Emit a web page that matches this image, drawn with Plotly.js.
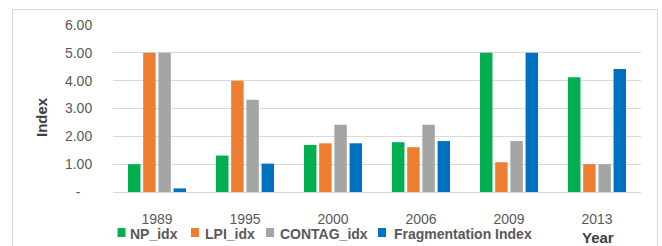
<!DOCTYPE html>
<html>
<head>
<meta charset="utf-8">
<script src="https://cdn.plot.ly/plotly-3.0.1.min.js"></script>
<style>
html,body{margin:0;padding:0;background:#fff;}
#wrap{position:relative;width:662px;height:246px;overflow:hidden;}
#frame{position:absolute;left:12px;top:9px;width:644px;height:260px;border:1px solid #D9D9D9;pointer-events:none;}
#chart{position:absolute;left:0;top:0;width:662px;height:246px;}
</style>
</head>
<body>
<div id="wrap"><div id="chart"></div><div id="frame"></div></div>
<script>
var years = ["1989","1995","2000","2006","2009","2013"];
var npIdx = [1.00, 1.31, 1.69, 1.79, 5.00, 4.12];
var lpiIdx = [5.00, 4.00, 1.75, 1.61, 1.07, 1.00];
var contagIdx = [5.00, 3.31, 2.42, 2.42, 1.83, 1.00];
var fragIdx = [0.13, 1.02, 1.75, 1.83, 5.00, 4.42];
var seriesNames = ["NP_idx", "LPI_idx", "CONTAG_idx", "Fragmentation Index"];
var colors = ["#00B050", "#ED7D31", "#A5A5A5", "#0070C0"];
var yTickVals = [0, 1, 2, 3, 4, 5, 6];
var yTickText = ["-\u00a0\u00a0\u00a0", "1.00", "2.00", "3.00", "4.00", "5.00", "6.00"];

var all = [npIdx, lpiIdx, contagIdx, fragIdx];
var data = all.map(function(vals, i){
  return {type:"bar", x:years, y:vals, name:seriesNames[i],
          marker:{color:colors[i]}, hoverinfo:"none", showlegend:false};
});
var F = "Liberation Sans, Arial, sans-serif";
var ML = 113, MR = 21, MT = 25, MB = 54, W = 662, H = 246;
var PW = W - ML - MR, PH = H - MT - MB;
function px(x){ return (x - ML) / PW; }
function py(y){ return (H - MB - y) / PH; }

// custom legend (Excel style)
var swatchX = [117.5, 191, 266, 378];
var textX = [128, 203, 278, 392];
var shapes = [], annotations = [];
seriesNames.forEach(function(n, i){
  shapes.push({type:"rect", xref:"paper", yref:"paper",
    x0:px(swatchX[i]), x1:px(swatchX[i]+8), y0:py(237), y1:py(228),
    fillcolor:colors[i], line:{width:0}});
  annotations.push({text:"<b>"+n+"</b>", xref:"paper", yref:"paper",
    x:px(textX[i]), y:py(233.5), xanchor:"left", yanchor:"middle", showarrow:false,
    font:{family:F, size:14, color:"#595959"}});
});
annotations.push({text:"<b>Index</b>", xref:"paper", yref:"paper", x:px(41), y:py(117),
  xanchor:"center", yanchor:"middle", textangle:-90, showarrow:false,
  font:{family:F, size:15, color:"#404040"}});
annotations.push({text:"<b>Year</b>", xref:"paper", yref:"paper", x:px(598), y:py(237),
  xanchor:"center", yanchor:"middle", showarrow:false,
  font:{family:F, size:15, color:"#404040"}});

var layout = {
  width:W, height:H,
  margin:{l:ML, r:MR, t:MT, b:MB, autoexpand:false},
  paper_bgcolor:"#fff", plot_bgcolor:"#fff",
  barmode:"group", bargap:0.31, bargroupgap:0.18,
  font:{family:F, size:14, color:"#595959"},
  showlegend:false,
  xaxis:{type:"category", showgrid:false, zeroline:false, showline:false,
         ticks:"outside", ticklen:14, tickcolor:"rgba(0,0,0,0)",
         tickfont:{family:F, size:14, color:"#595959"}},
  yaxis:{range:[0,6], tickvals:yTickVals, ticktext:yTickText,
         showgrid:true, gridcolor:"#D9D9D9", gridwidth:1,
         zeroline:true, zerolinecolor:"#D9D9D9", zerolinewidth:1,
         showline:false, ticks:"outside", ticklen:17, tickcolor:"rgba(0,0,0,0)",
         tickfont:{family:F, size:14, color:"#595959"}},
  shapes:shapes,
  annotations:annotations
};
Plotly.newPlot("chart", data, layout, {displayModeBar:false, staticPlot:true});
</script>
</body>
</html>
